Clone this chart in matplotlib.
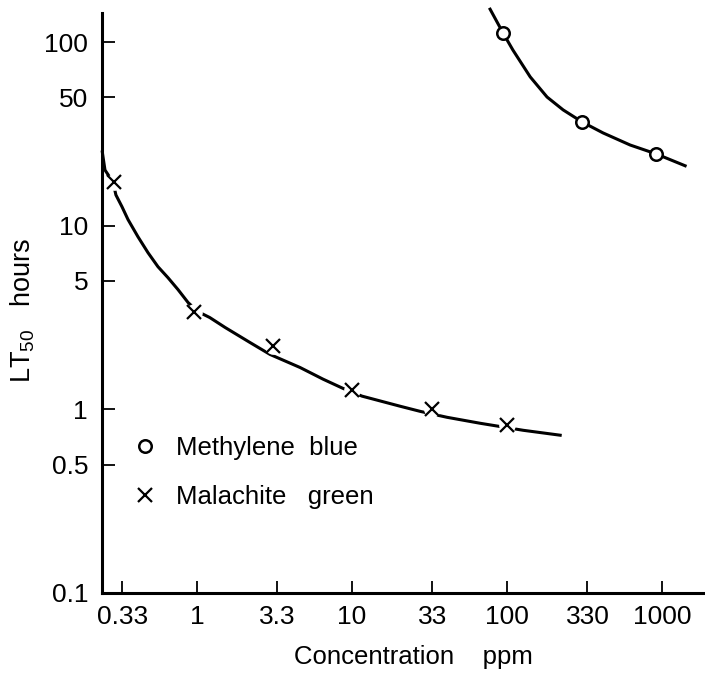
import matplotlib
matplotlib.use("Agg")
import matplotlib.pyplot as plt

plt.rcParams["font.family"] = ["Liberation Sans", "DejaVu Sans"]
plt.rcParams["mathtext.default"] = "regular"

# tick positions / labels
x_ticks = [0.33, 1, 3.3, 10, 33, 100, 330, 1000]
x_labels = ["0.33", "1", "3.3", "10", "33", "100", "330", "1000"]
y_ticks = [0.1, 0.5, 1, 5, 10, 50, 100]
y_labels = ["0.1", "0.5", "1", "5", "10", "50", "100"]

# Methylene blue: measured points and hand-fitted curve
mb_conc = [94, 305, 915]
mb_lt50 = [112, 36.7, 24.6]
mb_curve_x = [77.7, 94.2, 109, 141, 181, 230, 305, 416, 622, 915, 1407]
mb_curve_y = [151, 112, 90.5, 64.6, 50.2, 42.7, 36.7, 32.0, 27.5, 24.6, 21.2]

# Malachite green: measured points and hand-fitted curve
mg_conc = [0.29, 0.95, 3.1, 10, 33, 100]
mg_lt50 = [17.3, 3.41, 2.20, 1.27, 1.01, 0.82]
mg_curve_x = [0.245, 0.255, 0.287, 0.300, 0.328, 0.359, 0.416, 0.483, 0.560,
              0.650, 0.754, 0.875, 1.01, 1.21, 1.52, 2.20, 2.96, 4.62, 6.50,
              8.75, 11.6, 20.4, 27.5, 41.0, 66.9, 127, 220]
mg_curve_y = [25.2, 20.1, 17.3, 14.7, 12.7, 10.8, 8.71, 7.13, 5.98,
              5.21, 4.49, 3.82, 3.41, 3.16, 2.79, 2.31, 1.99, 1.69, 1.46,
              1.30, 1.18, 1.04, 0.975, 0.905, 0.840, 0.769, 0.723]

fig = plt.figure(figsize=(7.05, 6.83), dpi=100)
ax = fig.add_axes([0.1447, 0.1318, 0.8553, 0.8492])
ax.set_xscale("log")
ax.set_yscale("log")
ax.set_xlim(0.244, 1890)
ax.set_ylim(0.1, 144)

# curves
ax.plot(mb_curve_x, mb_curve_y, color="black", lw=2.2, clip_on=False,
        solid_joinstyle="round", zorder=2)
ax.plot(mg_curve_x, mg_curve_y, color="black", lw=2.2, clip_on=False,
        solid_joinstyle="round", zorder=2)

# points (white halo behind crosses breaks the line like the drawing)
ax.plot(mg_conc, mg_lt50, ls="none", marker="o", ms=12, mfc="white", mec="none", zorder=3)
ax.plot(mg_conc, mg_lt50, ls="none", marker="x", ms=10, mew=1.6, color="black",
        zorder=4, label="Malachite   green")
ax.plot(mb_conc, mb_lt50, ls="none", marker="o", ms=9, mew=1.8, mfc="white",
        mec="black", zorder=4, label="Methylene  blue")

ax.set_xticks(x_ticks)
ax.set_xticklabels(x_labels)
ax.set_yticks(y_ticks)
ax.set_yticklabels(y_labels)
ax.minorticks_off()
ax.tick_params(axis="both", direction="in", length=9, width=1.3, labelsize=19)
ax.tick_params(axis="x", pad=9)
ax.tick_params(axis="y", pad=10)

for side in ["top", "right"]:
    ax.spines[side].set_visible(False)
for side in ["left", "bottom"]:
    ax.spines[side].set_linewidth(2.2)

ax.set_xlabel("Concentration    ppm", fontsize=18.5)
ax.xaxis.set_label_coords(0.516, -0.09)
ax.set_ylabel("LT$_{50}$   hours", fontsize=19.5)
ax.yaxis.set_label_coords(-0.108, 0.487)

handles, labels = ax.get_legend_handles_labels()
leg = ax.legend(handles[::-1], labels[::-1], loc="upper left",
                bbox_to_anchor=(0.055, 0.271), frameon=False, fontsize=18.5,
                handlelength=0.75, handletextpad=0.85, labelspacing=0.97,
                borderpad=0, borderaxespad=0)

fig.savefig("out.png", dpi=100, facecolor="white")
